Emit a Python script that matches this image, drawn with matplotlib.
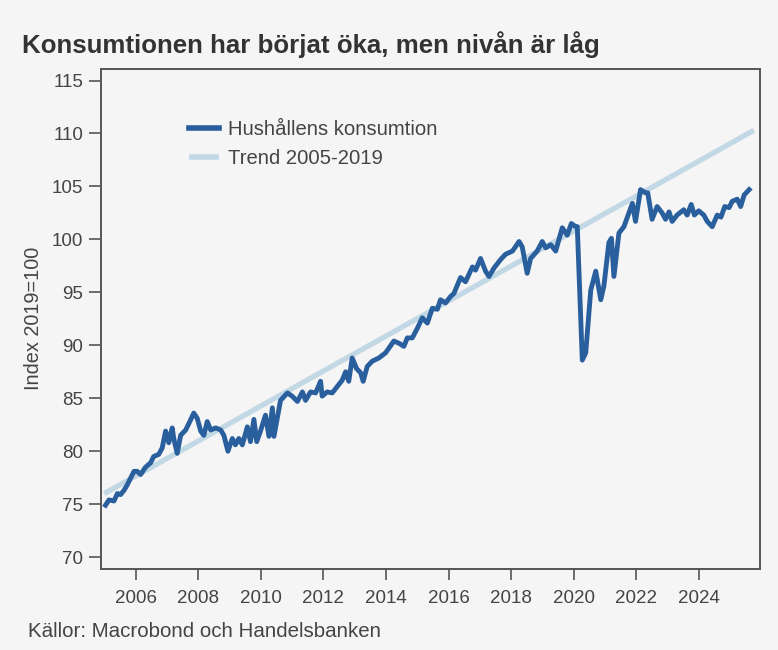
import numpy as np
import matplotlib
matplotlib.use("Agg")
import matplotlib.pyplot as plt

plt.rcParams['font.family'] = ['Liberation Sans', 'DejaVu Sans']

# Hushållens konsumtion, index 2019=100
ar = [2005.04, 2005.15, 2005.31, 2005.42, 2005.52, 2005.63, 2005.73, 2005.95, 2006.05, 2006.16,
      2006.32, 2006.48, 2006.58, 2006.74, 2006.85, 2006.96, 2007.06, 2007.17, 2007.22, 2007.33,
      2007.44, 2007.60, 2007.70, 2007.86, 2007.97, 2008.08, 2008.18, 2008.29, 2008.40, 2008.56,
      2008.72, 2008.82, 2008.95, 2009.09, 2009.19, 2009.30, 2009.41, 2009.57, 2009.67, 2009.78,
      2009.87, 2009.99, 2010.15, 2010.26, 2010.37, 2010.42, 2010.63, 2010.85, 2011.00, 2011.17,
      2011.33, 2011.43, 2011.59, 2011.75, 2011.91, 2011.96, 2012.12, 2012.28, 2012.44, 2012.60,
      2012.71, 2012.81, 2012.92, 2013.06, 2013.19, 2013.27, 2013.40, 2013.56, 2013.77, 2013.99,
      2014.25, 2014.41, 2014.57, 2014.68, 2014.84, 2015.00, 2015.16, 2015.32, 2015.48, 2015.64,
      2015.74, 2015.90, 2016.06, 2016.17, 2016.38, 2016.54, 2016.76, 2016.86, 2017.02, 2017.18,
      2017.29, 2017.45, 2017.66, 2017.82, 2018.04, 2018.25, 2018.35, 2018.51, 2018.62, 2018.83,
      2018.99, 2019.10, 2019.26, 2019.42, 2019.63, 2019.79, 2019.92, 2020.06, 2020.11, 2020.27,
      2020.38, 2020.54, 2020.70, 2020.86, 2020.96, 2021.12, 2021.20, 2021.28, 2021.44, 2021.60,
      2021.76, 2021.87, 2021.97, 2022.13, 2022.29, 2022.36, 2022.50, 2022.66, 2022.82, 2022.93,
      2023.04, 2023.14, 2023.30, 2023.51, 2023.62, 2023.75, 2023.85, 2023.99, 2024.15, 2024.26,
      2024.42, 2024.58, 2024.70, 2024.82, 2024.96, 2025.06, 2025.22, 2025.33, 2025.44, 2025.60]
konsumtion = [74.9, 75.4, 75.3, 76.0, 75.9, 76.3, 76.8, 78.1, 78.1, 77.8,
              78.5, 78.9, 79.5, 79.7, 80.3, 81.9, 80.8, 82.2, 81.2, 79.8,
              81.5, 82.0, 82.6, 83.6, 83.1, 81.9, 81.5, 82.8, 82.0, 82.2,
              82.0, 81.5, 80.0, 81.2, 80.6, 81.2, 80.6, 82.3, 80.9, 83.0,
              80.9, 81.9, 83.4, 81.4, 84.1, 81.4, 84.8, 85.5, 85.2, 84.7,
              85.6, 84.8, 85.6, 85.5, 86.6, 85.2, 85.6, 85.5, 86.1, 86.7,
              87.5, 86.6, 88.8, 87.8, 87.4, 86.6, 88.0, 88.5, 88.8, 89.3,
              90.4, 90.2, 89.9, 90.7, 90.7, 91.6, 92.6, 92.1, 93.5, 93.4,
              94.3, 94.0, 94.6, 94.9, 96.4, 96.0, 97.4, 97.1, 98.2, 97.0,
              96.5, 97.3, 98.1, 98.6, 98.9, 99.8, 99.3, 96.8, 98.2, 98.9,
              99.8, 99.2, 99.5, 98.9, 101.1, 100.4, 101.5, 101.2, 101.2, 88.6,
              89.3, 95.2, 97.0, 94.3, 95.6, 99.7, 100.1, 96.5, 100.6, 101.2,
              102.5, 103.4, 101.7, 104.7, 104.4, 104.4, 101.9, 103.1, 102.5, 101.9,
              102.6, 101.7, 102.3, 102.8, 102.3, 103.3, 102.3, 102.7, 102.3, 101.7,
              101.2, 102.3, 102.1, 103.1, 103.0, 103.6, 103.8, 103.1, 104.2, 104.7]

# Trend 2005-2019 (rät linje, ändpunkter)
trend_ar = [2005.0, 2025.75]
trend_varde = [76.0, 110.3]

ar_ticks = list(range(2006, 2025, 2))
y_ticks = list(range(70, 116, 5))

bg = '#f5f5f5'
textfarg = '#444444'

fig = plt.figure(figsize=(7.78, 6.5), dpi=100, facecolor=bg)
ax = fig.add_axes([0.130, 0.125, 0.847, 0.769])
ax.set_facecolor(bg)

ax.plot(trend_ar, trend_varde, color='#c3d8e5', linewidth=3.8, label='Trend 2005-2019',
        solid_capstyle='butt')
ax.plot(ar, konsumtion, color='#2a5f9e', linewidth=3.5, label='Hushållens konsumtion',
        solid_joinstyle='round')

ax.set_xlim(2004.9, 2025.95)
ax.set_ylim(68.9, 116.1)
ax.set_xticks(ar_ticks)
ax.set_yticks(y_ticks)
ax.tick_params(axis='x', length=8, width=1.2, colors='#555555', labelcolor=textfarg,
               labelsize=13.5, pad=7)
ax.tick_params(axis='y', length=9, width=1.2, colors='#555555', labelcolor=textfarg,
               labelsize=13.5, pad=4)
for s in ax.spines.values():
    s.set_color('#555555')
    s.set_linewidth(1.4)

ax.set_ylabel('Index 2019=100', fontsize=14.3, color=textfarg, labelpad=6)

handles, labels = ax.get_legend_handles_labels()
leg = ax.legend(handles[::-1], labels[::-1], loc='upper left', bbox_to_anchor=(0.105, 0.935),
                frameon=False, fontsize=14.6, handlelength=1.5, handletextpad=0.45,
                labelspacing=0.5)
for t in leg.get_texts():
    t.set_color(textfarg)
for h in leg.get_lines():
    h.set_linewidth(4.0)

fig.text(0.028, 0.918, 'Konsumtionen har börjat öka, men nivån är låg', fontsize=18.6,
         fontweight='bold', color='#333333', va='baseline')
fig.text(0.036, 0.02, 'Källor: Macrobond och Handelsbanken', fontsize=14.8,
         color=textfarg, va='baseline')

fig.savefig('out.png', dpi=100, facecolor=bg)
